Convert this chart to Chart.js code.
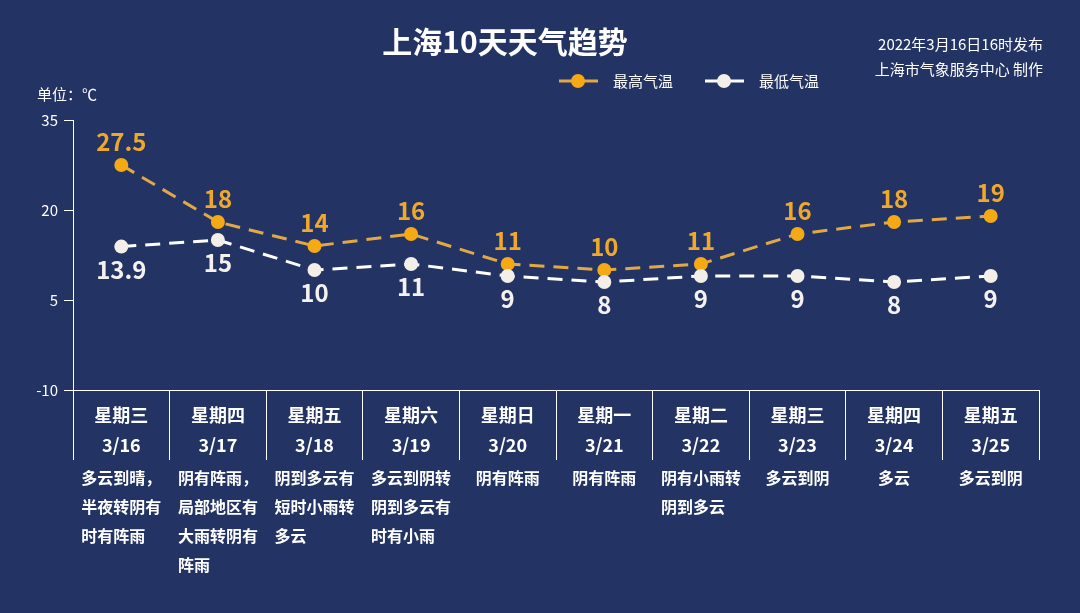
<!DOCTYPE html>
<html>
<head>
<meta charset="utf-8">
<script src="https://cdn.jsdelivr.net/npm/chart.js@4"></script>
<style>
  html, body { margin: 0; padding: 0; background: #233464; }
  #wrap { width: 1080px; height: 613px; position: relative; }
</style>
</head>
<body>
<div id="wrap"><canvas id="tempChart"></canvas></div>
<script>
// 上海10天天气 data
const weekdays = ["星期三", "星期四", "星期五", "星期六", "星期日", "星期一", "星期二", "星期三", "星期四", "星期五"];
const dates = ["3/16", "3/17", "3/18", "3/19", "3/20", "3/21", "3/22", "3/23", "3/24", "3/25"];
const highTemps = [27.5, 18, 14, 16, 11, 10, 11, 16, 18, 19];
const lowTemps = [13.9, 15, 10, 11, 9, 8, 9, 9, 8, 9];
const weatherText = [
  ["多云到晴，", "半夜转阴有", "时有阵雨"],
  ["阴有阵雨，", "局部地区有", "大雨转阴有", "阵雨"],
  ["阴到多云有", "短时小雨转", "多云"],
  ["多云到阴转", "阴到多云有", "时有小雨"],
  ["阴有阵雨"],
  ["阴有阵雨"],
  ["阴有小雨转", "阴到多云"],
  ["多云到阴"],
  ["多云"],
  ["多云到阴"]
];
const yTicks = [35, 20, 5, -10];

const FONT = '"Noto Sans CJK SC", "Noto Sans", sans-serif';
const ORANGE = "#f5a914";
const ORANGE_LINE = "#e2a845";
const CREAM = "#f4eee8";

// extra text: title, legend, unit, weather descriptions, point values
const decorations = {
  id: "decorations",
  afterDatasetsDraw(chart) {
    const ctx = chart.ctx;
    const x = chart.scales.x;
    ctx.save();

    // title
    ctx.fillStyle = "#ffffff";
    ctx.textAlign = "center";
    ctx.textBaseline = "middle";
    ctx.font = `bold 30px ${FONT}`;
    ctx.fillText("上海10天天气趋势", 505, 42);

    // publish info
    ctx.textAlign = "right";
    ctx.font = `15px ${FONT}`;
    ctx.fillText("2022年3月16日16时发布", 1043, 44);
    ctx.fillText("上海市气象服务中心 制作", 1043, 69);

    // unit
    ctx.textAlign = "left";
    ctx.fillText("单位：℃", 37, 94);

    // legend
    const legendItems = [
      { x: 559, line: ORANGE_LINE, fill: ORANGE, text: "最高气温" },
      { x: 705, line: "#ffffff", fill: CREAM, text: "最低气温" }
    ];
    legendItems.forEach(it => {
      ctx.strokeStyle = it.line;
      ctx.lineWidth = 3;
      ctx.beginPath();
      ctx.moveTo(it.x, 81);
      ctx.lineTo(it.x + 39, 81);
      ctx.stroke();
      ctx.fillStyle = it.fill;
      ctx.beginPath();
      ctx.arc(it.x + 19, 81, 7, 0, Math.PI * 2);
      ctx.fill();
      ctx.fillStyle = "#ffffff";
      ctx.font = `15px ${FONT}`;
      ctx.textAlign = "left";
      ctx.fillText(it.text, it.x + 54, 81);
    });

    // values on points
    ctx.font = `bold 24px ${FONT}`;
    ctx.textAlign = "center";
    chart.getDatasetMeta(0).data.forEach((pt, i) => {
      ctx.fillStyle = "#f0a82a";
      ctx.fillText(String(highTemps[i]), pt.x, pt.y - 23);
    });
    chart.getDatasetMeta(1).data.forEach((pt, i) => {
      ctx.fillStyle = "#f4f1ee";
      ctx.fillText(String(lowTemps[i]), pt.x, pt.y + 23);
    });

    // weather descriptions under each day
    ctx.font = `bold 16px ${FONT}`;
    ctx.fillStyle = "#ffffff";
    ctx.textAlign = "left";
    weatherText.forEach((lines, i) => {
      const cx = x.getPixelForValue(i);
      const w = Math.max(...lines.map(l => ctx.measureText(l).width));
      lines.forEach((l, j) => {
        ctx.fillText(l, cx - w / 2, 478 + j * 29);
      });
    });
    ctx.restore();
  }
};

const ctx = document.getElementById("tempChart");
new Chart(ctx, {
  type: "line",
  data: {
    labels: weekdays.map((w, i) => [w, dates[i]]),
    datasets: [
      {
        label: "最高气温",
        data: highTemps,
        borderColor: ORANGE_LINE,
        borderWidth: 3,
        borderDash: [15, 9],
        pointBackgroundColor: ORANGE,
        pointBorderColor: ORANGE,
        pointRadius: 7,
        pointBorderWidth: 0,
        tension: 0,
        order: 1
      },
      {
        label: "最低气温",
        data: lowTemps,
        borderColor: "#ffffff",
        borderWidth: 3,
        borderDash: [15, 9],
        pointBackgroundColor: CREAM,
        pointBorderColor: CREAM,
        pointRadius: 7,
        pointBorderWidth: 0,
        tension: 0,
        order: 0
      }
    ]
  },
  options: {
    responsive: true,
    maintainAspectRatio: false,
    animation: false,
    layout: { padding: { top: 120, right: 41, left: 0, bottom: 0 } },
    plugins: {
      legend: { display: false },
      title: { display: false },
      tooltip: { enabled: false }
    },
    scales: {
      x: {
        offset: true,
        afterFit(scale) { scale.height = 223; },
        border: { color: "#ffffff", width: 1 },
        grid: {
          offset: true,
          drawOnChartArea: false,
          color: "#ffffff",
          tickLength: 70
        },
        ticks: {
          color: "#ffffff",
          padding: -60,
          maxRotation: 0,
          autoSkip: false,
          font: { family: FONT, size: 18, weight: "bold", lineHeight: "30px" }
        }
      },
      y: {
        min: -10,
        max: 35,
        afterFit(scale) { scale.width = 73; },
        afterBuildTicks(scale) { scale.ticks = yTicks.map(v => ({ value: v })); },
        border: { color: "#ffffff", width: 1 },
        grid: {
          drawOnChartArea: false,
          color: "#ffffff",
          tickLength: 9
        },
        ticks: {
          color: "#ffffff",
          padding: 6,
          font: { family: FONT, size: 15 }
        }
      }
    }
  },
  plugins: [decorations]
});
</script>
</body>
</html>
